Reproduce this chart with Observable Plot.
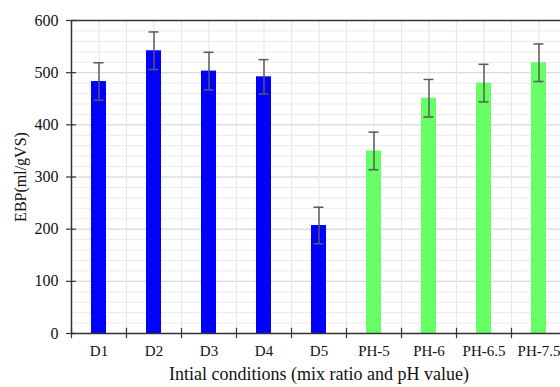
<!DOCTYPE html>
<html>
<head>
<meta charset="utf-8">
<script src="https://cdn.jsdelivr.net/npm/d3@7"></script>
<script src="https://cdn.jsdelivr.net/npm/@observablehq/plot@0.6"></script>
<style>
  html, body { margin: 0; padding: 0; background: #fff; overflow: hidden; }
  #chart svg { max-width: none !important; display: block; }
</style>
</head>
<body>
<div id="chart"></div>
<script>
const categories = ["D1", "D2", "D3", "D4", "D5", "PH-5", "PH-6", "PH-6.5", "PH-7.5"];
const values = [483, 542, 503, 492, 207, 350, 451, 480, 519];
const errors = [36, 36, 36, 33, 35, 36, 36, 36, 36];
const groups = ["mix", "mix", "mix", "mix", "mix", "ph", "ph", "ph", "ph"];
const yTicks = [0, 100, 200, 300, 400, 500, 600];
const minorTicks = d3.range(0, 601, 20);

const data = categories.map((c, i) => ({cat: c, v: values[i], e: errors[i], g: groups[i]}));
const serif = "'Liberation Serif', 'Times New Roman', serif";

const chart = Plot.plot({
  width: 566,
  height: 387,
  marginLeft: 71,
  marginRight: 0,
  marginTop: 20,
  marginBottom: 54,
  style: {fontFamily: serif, fontSize: "15px", color: "#111", background: "#fff"},
  x: {domain: categories, padding: 0, label: null},
  y: {domain: [0, 600], label: null},
  color: {domain: ["mix", "ph"], range: ["#0000ff", "#66ff66"]},
  marks: [
    Plot.ruleY(minorTicks, {stroke: "#ebebeb", strokeWidth: 1}),
    Plot.ruleY(yTicks, {stroke: "#d6d6d6", strokeWidth: 1}),
    Plot.ruleX(categories, {stroke: "#e8e8e8", strokeWidth: 1.2}),
    Plot.ruleX(categories, {stroke: "#e8e8e8", strokeWidth: 1.2, dx: 27.5}),
    Plot.barY(data, {x: "cat", y: "v", fill: "g", insetLeft: 20, insetRight: 20}),
    Plot.ruleX(data, {x: "cat", y1: d => d.v - d.e, y2: d => d.v + d.e, stroke: "#5a5a5a", strokeWidth: 1.5}),
    Plot.tickY(data, {x: "cat", y: d => d.v + d.e, stroke: "#5a5a5a", strokeWidth: 1.5, insetLeft: 22.5, insetRight: 22.5}),
    Plot.tickY(data, {x: "cat", y: d => d.v - d.e, stroke: "#5a5a5a", strokeWidth: 1.5, insetLeft: 22.5, insetRight: 22.5}),
    Plot.ruleY([600], {stroke: "#333", strokeWidth: 1.5}),
    Plot.ruleY([0], {stroke: "#333", strokeWidth: 1.5}),
    Plot.ruleX([categories[0]], {dx: -27.5, y1: 0, y2: 600, stroke: "#333", strokeWidth: 1.5}),
    Plot.ruleX(categories, {dx: -27.5, y1: -10, y2: 10, stroke: "#333", strokeWidth: 1.2}),
    Plot.axisY(yTicks, {tickSize: 10, dx: 5, tickFormat: () => "", stroke: "#333", strokeWidth: 1.2}),
    Plot.axisY(yTicks, {tickSize: 0, tickPadding: 13, fontSize: 16, fill: "#111", label: null}),
    Plot.axisY({tickSize: 0, tickFormat: () => "", fontSize: 16, fill: "#111",
      label: "EBP(ml/gVS)", labelAnchor: "center", labelArrow: false, labelOffset: 57}),
    Plot.axisX({tickSize: 0, tickPadding: 12, fontSize: 15, fill: "#111", label: null}),
    Plot.axisX({tickSize: 0, tickFormat: () => "", fontSize: 18, fill: "#111",
      label: "Intial conditions (mix ratio and pH value)", labelAnchor: "center", labelArrow: false, labelOffset: 46})
  ]
});
document.getElementById("chart").appendChild(chart);
</script>
</body>
</html>
